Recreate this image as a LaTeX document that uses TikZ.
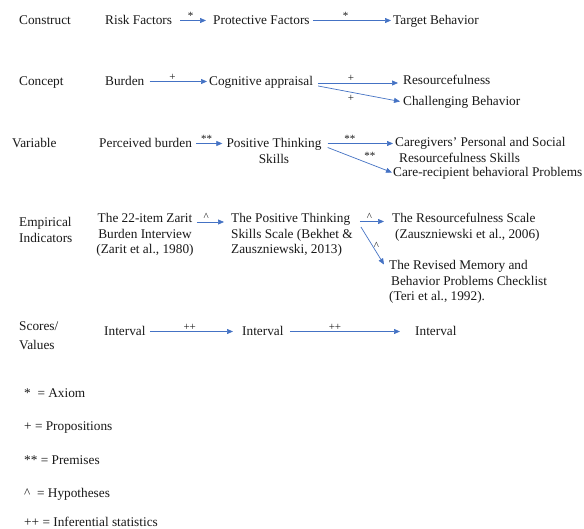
\documentclass[tikz,border=0pt]{standalone}
\usepackage{fontspec}
\setmainfont{Liberation Serif}
\usetikzlibrary{arrows.meta,calc}
\definecolor{arrblue}{RGB}{68,114,196}
\definecolor{txtc}{RGB}{25,25,25}
\newcommand{\dfs}{\fontsize{13.3}{15.5}\selectfont}
\newcommand{\fst}{\rule{0pt}{10pt}}
\begin{document}
\begin{tikzpicture}[x=1pt,y=-1pt,
  txt/.style={font=\dfs, inner sep=0pt, text=txtc, text height=10pt, text depth=2pt, anchor=west},
  mtxt/.style={font=\dfs, inner sep=0pt, text=txtc, align=left, anchor=north west},
  ctxt/.style={font=\dfs, inner sep=0pt, text=txtc, align=center, anchor=north},
  arr/.style={draw=arrblue, line width=0.7pt, -{Triangle[length=6pt,width=5pt]}},
  lbl/.style={font=\fontsize{11}{12}\selectfont, text=txtc, inner sep=1pt}]
\useasboundingbox[fill=white] (0,0) rectangle (584,529);

% Row 1: Construct
\node[txt] (construct) at (19,20.5) {Construct};
\node[txt] (risk) at (105,20.5) {Risk Factors};
\node[txt] (prot) at (213,20.5) {Protective Factors};
\node[txt] (targ) at (393,20.5) {Target Behavior};
\draw[arr] ($(risk.east)+(8,0)$) -- node[lbl,above,pos=.4]{*} ($(prot.west)+(-7,0)$);
\draw[arr] ($(prot.east)+(3,0)$) -- node[lbl,above,pos=.42]{*} ($(targ.west)+(-2,0)$);

% Row 2: Concept
\node[txt] (concept) at (19,81.5) {Concept};
\node[txt] (burden) at (105,81.5) {Burden};
\node[txt] (cog) at (209,81.5) {Cognitive appraisal};
\node[txt] (res) at (403,80.5) {Resourcefulness};
\node[txt] (chall) at (403,101.5) {Challenging Behavior};
\draw[arr] ($(burden.east)+(5,0)$) -- node[lbl,above,pos=.4]{+} ($(cog.west)+(-2,0)$);
\draw[arr] ($(cog.east)+(5,1.5)$) -- node[lbl,above,pos=.41]{+} ($(res.west)+(-5,2.5)$);
\draw[arr] ($(cog.east)+(5,4.5)$) -- node[lbl,below=2pt,pos=.4]{+} ($(chall.west)+(-3,0)$);

% Row 3: Variable
\node[txt] (variable) at (12,143.5) {Variable};
\node[txt] (pb) at (99,143.5) {Perceived burden};
\node[ctxt] (pts) at (274,137.5) {\fst Positive Thinking\\Skills};
\node[mtxt] (care) at (395,136.5) {\fst Caregivers’ Personal and Social\\\hspace{4pt}Resourcefulness Skills};
\node[txt] (carerec) at (393,172.5) {Care-recipient behavioral Problems};
\draw[arr] ($(pb.east)+(4,0)$) -- node[lbl,above,pos=.4]{**} ($(pb.east -| pts.west)+(-4,0)$);
\draw[arr] ($(pb.east -| pts.east)+(6,0)$) -- node[lbl,above,pos=.34]{**} ($(pb.east -| care.west)+(-2,0)$);
\draw[arr] ($(pb.east -| pts.east)+(6,4)$) -- node[lbl,above right=0pt,pos=.55]{**} ($(carerec.west)+(-1,0)$);

% Row 4: Empirical Indicators
\node[mtxt] (emp) at (19,216.5) {\fst Empirical\\Indicators};
\node[ctxt] (zarit) at (145,212.5) {\fst The 22-item Zarit\\Burden Interview\\(Zarit et al., 1980)};
\node[mtxt] (ptss) at (231,212.5) {\fst The Positive Thinking\\Skills Scale (Bekhet \&\\Zauszniewski, 2013)};
\node[mtxt] (ressc) at (392,212.5) {\fst The Resourcefulness Scale\\\hspace{3pt}(Zauszniewski et al., 2006)};
\node[mtxt] (revised) at (389,259.5) {\fst The Revised Memory and\\\hspace{2pt}Behavior Problems Checklist\\(Teri et al., 1992).};
\draw[arr] ($(zarit.north east)+(3,9.5)$) -- node[lbl,above,pos=.35]{\textasciicircum} ($(ptss.north west)+(-7,9.5)$);
\draw[arr] ($(ptss.north east)+(7,9)$) -- node[lbl,above,pos=.4]{\textasciicircum} ($(ressc.north west)+(-8,9)$);
\draw[arr] ($(ptss.north east)+(8,14.5)$) -- node[lbl,right,pos=.5]{\textasciicircum} ($(revised.north west)+(-5,5)$);

% Row 5: Scores/Values
\node[mtxt] (scores) at (19,320.5) {\fst Scores/\\[3.5pt]Values};
\node[txt] (i1) at (104,331.5) {Interval};
\node[txt] (i2) at (242,331.5) {Interval};
\node[txt] (i3) at (415,331.5) {Interval};
\draw[arr] ($(i1.east)+(4,0)$) -- node[lbl,above,pos=.48]{++} ($(i2.west)+(-9,0)$);
\draw[arr] ($(i2.east)+(6,0)$) -- node[lbl,above,pos=.41]{++} ($(i3.west)+(-15,0)$);

% Legend
\node[txt] (lg1) at (24,393.5) {*~~= Axiom};
\node[txt] (lg2) at (24,426.5) {+ = Propositions};
\node[txt] (lg3) at (24,460.5) {** = Premises};
\node[txt] (lg4) at (24,493.5) {\textasciicircum~~= Hypotheses};
\node[txt] (lg5) at (24,522.5) {++ = Inferential statistics};
\end{tikzpicture}
\end{document}
